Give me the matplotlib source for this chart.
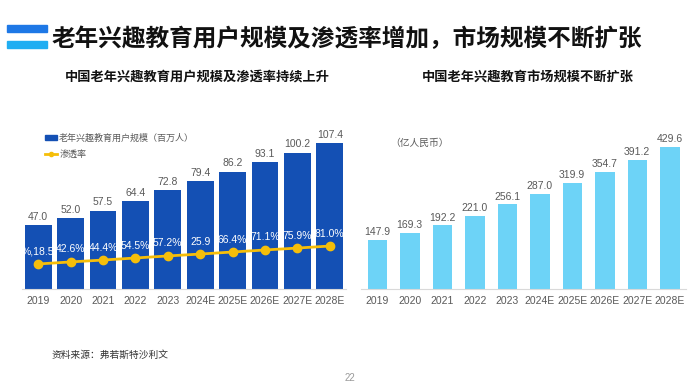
import matplotlib
matplotlib.use("Agg")
import matplotlib.pyplot as plt
from matplotlib.patches import Rectangle, Patch
from matplotlib.lines import Line2D

plt.rcParams['font.family'] = ['Liberation Sans', 'Noto Sans CJK SC']

years = ['2019', '2020', '2021', '2022', '2023',
         '2024E', '2025E', '2026E', '2027E', '2028E']
users = [47.0, 52.0, 57.5, 64.4, 72.8, 79.4, 86.2, 93.1, 100.2, 107.4]
# line height as drawn on the chart (bar units), labels as printed
rate_level = [18.4, 19.9, 21.3, 22.8, 24.3, 25.7, 27.2, 28.7, 30.1, 31.6]
rate_labels = ['%,18.5', '42.6%', '44.4%', '54.5%', '57.2%',
               '25.9', '66.4%', '71.1%', '75.9%', '81.0%']
market = [147.9, 169.3, 192.2, 221.0, 256.1, 287.0, 319.9, 354.7, 391.2, 429.6]

W, H = 700, 387
DARK = '#1450B4'
LIGHT = '#6DD3F7'
YELLOW = '#F5BE0A'
GRAY = '#595959'


def px_axes(fig, x0, y0, x1, y1):
    # pixel box (top-left origin) -> figure axes
    return fig.add_axes([x0 / W, 1 - y1 / H, (x1 - x0) / W, (y1 - y0) / H])


def style(ax, ymax):
    ax.set_xlim(-0.5, 9.5)
    ax.set_ylim(0, ymax)
    for s in ['top', 'right', 'left']:
        ax.spines[s].set_visible(False)
    ax.spines['bottom'].set_color('#D9D9D9')
    ax.set_yticks([])
    ax.set_xticks(range(len(years)))
    ax.set_xticklabels(years, fontsize=7.5, color=GRAY)
    ax.tick_params(axis='x', length=0, pad=5)


fig = plt.figure(figsize=(W / 100, H / 100), dpi=100)

# header icon
fig.patches.append(Rectangle((7 / W, 1 - 32 / H), 40 / W, 7 / H,
                             transform=fig.transFigure, color='#1E78E6'))
fig.patches.append(Rectangle((7 / W, 1 - 48 / H), 40 / W, 7 / H,
                             transform=fig.transFigure, color='#20AEF2'))
fig.text(52 / W, 1 - 39 / H, '老年兴趣教育用户规模及渗透率增加，市场规模不断扩张',
         fontsize=17, fontweight='bold', color='#111111', va='center', ha='left')

# left chart
ax1 = px_axes(fig, 22, 130, 346, 289)
style(ax1, 159 / 1.36)
x = list(range(len(years)))
ax1.bar(x, users, width=0.83, color=DARK)
for i, v in enumerate(users):
    ax1.text(i, v + 2.5, f'{v:.1f}', ha='center', va='bottom', fontsize=7.5, color=GRAY)
ax1.plot(x, rate_level, color=YELLOW, lw=2, marker='o', ms=6, zorder=3)
for i, (lv, lb) in enumerate(zip(rate_level, rate_labels)):
    ax1.text(i, lv + 5.5, lb, ha='center', va='bottom', fontsize=7.5, color='white')
handles = [Patch(color=DARK),
           Line2D([0], [0], color=YELLOW, lw=2, marker='o', ms=3)]
ax1.legend(handles, ['老年兴趣教育用户规模（百万人）', '渗透率'],
           loc='upper left', bbox_to_anchor=(0.045, 1.03), frameon=False,
           fontsize=6.5, labelcolor=GRAY, handlelength=1.4, handleheight=0.5,
           handletextpad=0.2, labelspacing=0.85)
fig.text(197 / W, 1 - 77 / H, '中国老年兴趣教育用户规模及渗透率持续上升',
         fontsize=9.5, fontweight='bold', color='#111111', ha='center', va='center')

# right chart
ax2 = px_axes(fig, 361, 130, 686, 289)
style(ax2, 159 / 0.331)
ax2.bar(x, market, width=0.6, color=LIGHT)
for i, v in enumerate(market):
    ax2.text(i, v + 8, f'{v:.1f}', ha='center', va='bottom', fontsize=7.5, color=GRAY)
fig.text(390 / W, 1 - 143 / H, '（亿人民币）', fontsize=7, color=GRAY,
         ha='left', va='center')
fig.text(528 / W, 1 - 77 / H, '中国老年兴趣教育市场规模不断扩张',
         fontsize=9.5, fontweight='bold', color='#111111', ha='center', va='center')

# footer
fig.text(52 / W, 1 - 355 / H, '资料来源：弗若斯特沙利文', fontsize=7,
         color='#333333', ha='left', va='center')
fig.text(350 / W, 1 - 378 / H, '22', fontsize=7, color='#999999',
         ha='center', va='center')

fig.savefig('out.png', dpi=100)
